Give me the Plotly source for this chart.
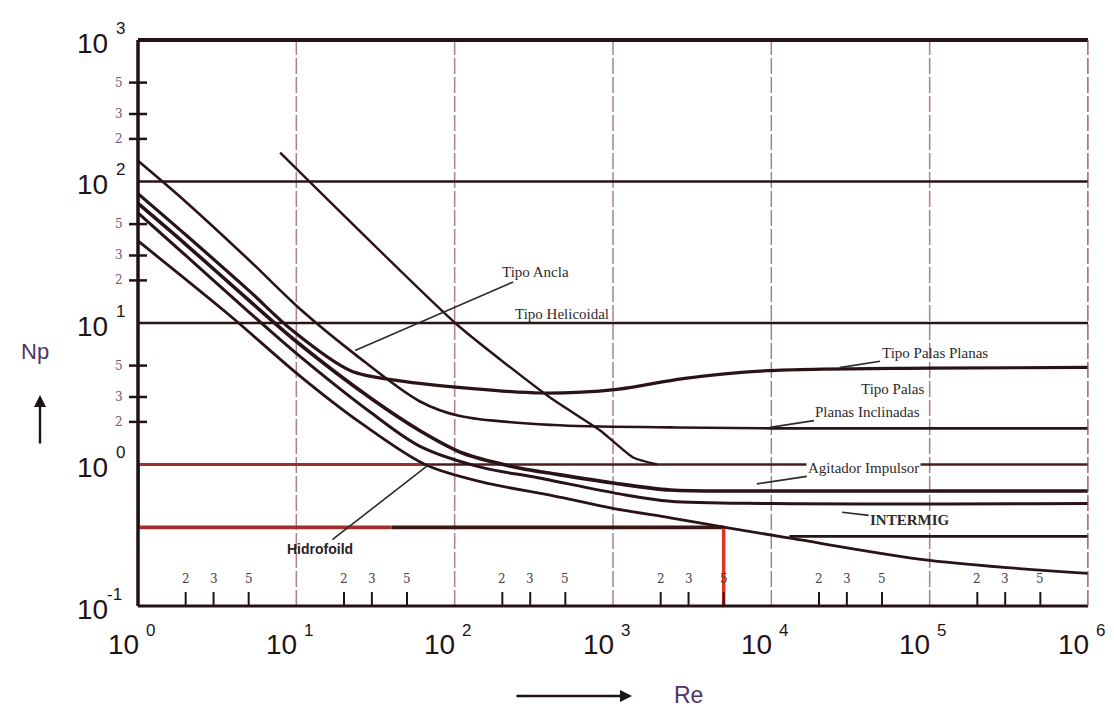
import math
import plotly.graph_objects as go

# ---------------- data ----------------
re_ancla = [1, 2, 5, 10.6, 23.5, 60, 108, 420, 2300, 1e4, 1e6]
np_ancla = [140, 72, 28, 12.5, 6.0, 2.8, 2.2, 1.9, 1.83, 1.8, 1.8]

re_helic = [7.9, 105, 400, 830, 1340, 1900]
np_helic = [160, 9.6, 2.97, 1.74, 1.12, 1.0]

re_palas = [1, 2, 5, 9.5, 22, 45, 125, 350, 1060, 2770, 9400, 1e5, 1e6]
np_palas = [82, 42, 17, 8.8, 4.6, 3.9, 3.45, 3.2, 3.4, 4.05, 4.6, 4.8, 4.85]

re_agit = [1, 2, 5, 10, 30, 60, 113, 260, 420, 1000, 2300, 1e4, 1e6]
np_agit = [70, 36, 14.5, 7.4, 2.9, 1.74, 1.2, 0.94, 0.86, 0.74, 0.66, 0.65, 0.65]

re_inter = [1, 2, 5, 10, 30, 60, 150, 330, 1100, 2300, 1e4, 1e6]
np_inter = [60, 30, 12, 6.1, 2.3, 1.35, 0.95, 0.81, 0.62, 0.55, 0.53, 0.53]

re_hidro = [1, 3.8, 10.6, 25, 65, 150, 420, 1000, 2300, 5100, 13500, 1e5, 1e6]
np_hidro = [38, 11.3, 4.2, 2.0, 1.0, 0.75, 0.6, 0.49, 0.42, 0.36, 0.30, 0.21, 0.17]

re_branch = [1.3e4, 1e5, 1e6]
np_branch = [0.31, 0.31, 0.31]

re_mark = 5000
np_mark = 0.36

decades_x = [0, 1, 2, 3, 4, 5, 6]
decades_y = [-1, 0, 1, 2, 3]
minor_mult = [2, 3, 5]

curve_labels = ["Tipo Ancla", "Tipo Helicoidal", "Tipo Palas Planas", "Tipo Palas",
                "Planas Inclinadas", "Agitador Impulsor", "INTERMIG", "Hidrofoild"]

# ---------------- figure ----------------
OFF = 8                      # default page margin of the html body
W, H = 1114 - 2 * OFF, 718 - 2 * OFF
L, T = 138 - OFF, 40 - OFF   # plot area in page pixels: x 138..1088, y 40..606
R = W - (1088 - OFF)
B = H - (606 - OFF)
PW = W - L - R
PH = H - T - B

DARK = "#2a1316"
GRIDV = "rgba(150,95,110,0.8)"
PURPLE = "#4d3468"


def px(page_x):
    return (page_x - OFF - L) / PW


def py(page_y):
    return (H - B - (page_y - OFF)) / PH


fig = go.Figure()


def add_line(x, y, color=DARK, width=2.5, dash=None, shape="linear", smoothing=0.9):
    line = dict(color=color, width=width, dash=dash, shape=shape)
    if shape == "spline":
        line["smoothing"] = smoothing
    fig.add_trace(go.Scatter(x=x, y=y, mode="lines", hoverinfo="skip",
                             line=line, showlegend=False))


# vertical grid lines (decades)
for k in decades_x[1:]:
    add_line([10 ** k, 10 ** k], [0.1, 1000], color=GRIDV, width=1.5, dash="16px,3px")

# horizontal grid lines
add_line([1, 1e6], [100, 100], width=2.6)
add_line([1, 1e6], [10, 10], width=2.6)
add_line([1, 70], [1, 1], color="#a0302c", width=2.8)
add_line([70, 1e6], [1, 1], color="#4a1c20", width=2.6)

# marker rectangle (Hidrofoil at Re = 5000)
add_line([1, 1], [np_mark, 1], color="#a0302c", width=3.5)
add_line([1, 40], [np_mark, np_mark], color="#a0302c", width=3.8)
add_line([40, re_mark], [np_mark, np_mark], color="#3c1518", width=3.8)
add_line([re_mark, re_mark], [0.1, np_mark], color="#e8321e", width=3.5)

# curves
add_line(re_helic, np_helic, width=2.4, shape="spline", smoothing=0.5)
add_line(re_ancla, np_ancla, width=2.6, shape="spline")
add_line(re_palas, np_palas, width=3.2, shape="spline")
add_line(re_agit, np_agit, width=3.6, shape="spline")
add_line(re_inter, np_inter, width=3.0, shape="spline")
add_line(re_hidro, np_hidro, width=2.8, shape="spline")
add_line(re_branch, np_branch, width=2.8)

# borders (paper coords)
shapes = [
    dict(type="line", xref="paper", yref="paper", x0=0, x1=1, y0=1, y1=1,
         line=dict(color="#221214", width=4)),
    dict(type="line", xref="paper", yref="paper", x0=0, x1=0, y0=0, y1=1,
         line=dict(color="#221214", width=3.5)),
    dict(type="line", xref="paper", yref="paper", x0=0, x1=1, y0=0, y1=0,
         line=dict(color="#221214", width=2.8)),
    dict(type="line", xref="paper", yref="paper", x0=1, x1=1, y0=0, y1=1,
         line=dict(color=GRIDV, width=1.5, dash="16px,3px")),
]

annotations = []


def ann(**kw):
    kw.setdefault("xanchor", "center")
    kw.setdefault("yanchor", "middle")
    kw.setdefault("showarrow", False)
    annotations.append(kw)


# y minor ticks and labels
for k in [0, 1, 2]:
    for m in minor_mult:
        yp = (math.log10(m) + k + 1) / 4.0
        shapes.append(dict(type="line", xref="paper", yref="paper",
                           x0=-9 / PW, x1=9 / PW, y0=yp, y1=yp,
                           line=dict(color="#221214", width=2.5)))
        ann(xref="paper", yref="paper", x=0, y=yp, xshift=-19, text=str(m),
            font=dict(family="DejaVu Serif", size=12, color="#6e5870"))

# x minor ticks and labels
for k in range(6):
    for m in minor_mult:
        xp = (math.log10(m) + k) / 6.0
        shapes.append(dict(type="line", xref="paper", yref="paper",
                           x0=xp, x1=xp, y0=0, y1=14 / PH,
                           line=dict(color="#221214", width=2)))
        ann(xref="paper", yref="paper", x=xp, y=0, yshift=27, text=str(m),
            font=dict(family="DejaVu Serif", size=12, color="#4a3a44"))

# major tick labels
TF = "Liberation Sans"
for k in decades_x:
    ann(xref="x", yref="paper", x=k, y=0, xshift=-15, yshift=-38, text="10",
        font=dict(family=TF, size=28, color="#1e1416"))
    ann(xref="x", yref="paper", x=k, y=0, xshift=12, yshift=-24, text=str(k),
        font=dict(family=TF, size=17, color="#1e1416"))
for k in decades_y:
    ann(xref="paper", yref="y", x=0, y=k, xshift=-46, yshift=-3, text="10",
        font=dict(family=TF, size=28, color="#1e1416"))
    ann(xref="paper", yref="y", x=0, y=k, xshift=-18 if k >= 0 else -24,
        yshift=12, text=str(k), font=dict(family=TF, size=17, color="#1e1416"))

# curve labels
SF = "Liberation Serif"
lab_font = dict(family=SF, size=15, color="#2e2a2c")


def lab(text, re, npv, ax=None, ay=None, font=lab_font, xanchor="center", bg=None):
    d = dict(xref="x", yref="y", x=math.log10(re), y=math.log10(npv), text=text,
             font=font, xanchor=xanchor, yanchor="middle")
    if ax is None:
        d["showarrow"] = False
    else:
        d.update(showarrow=True, ax=ax, ay=ay, arrowhead=0, arrowwidth=1.6,
                 arrowcolor="#2e2a2c", standoff=0)
    if bg:
        d["bgcolor"] = bg
    annotations.append(d)


lab(curve_labels[0], 23.5, 6.4, ax=180, ay=-78)
lab(curve_labels[1], 477, 11.5)
lab(curve_labels[2], 27000, 4.84, ax=95, ay=-15)
lab(curve_labels[3], 36000, 3.4, xanchor="left")
lab(curve_labels[4], 9800, 1.83, ax=98, ay=-15)
lab(curve_labels[5], 8100, 0.73, ax=107, ay=-16, bg="white")
lab(curve_labels[6], 28000, 0.46, ax=68, ay=8,
    font=dict(family=SF, size=15, color="#2e2a2c", weight="bold"))
lab(curve_labels[7], 68, 0.99, ax=-108, ay=84,
    font=dict(family="Liberation Sans", size=14, color="#2a2224", weight="bold"))

# axis titles with arrows (positions in page pixels)
ann(xref="paper", yref="paper", x=px(35), y=py(352), text="Np",
    font=dict(family="Liberation Sans", size=22, color=PURPLE))
annotations.append(dict(xref="paper", yref="paper", x=px(40), y=py(395),
                        text="", showarrow=True, ax=0, ay=50, arrowhead=2, arrowsize=1,
                        arrowwidth=2.4, arrowcolor="#1a1214"))
ann(xref="paper", yref="paper", x=px(688), y=py(695), text="Re",
    font=dict(family="Liberation Sans", size=23, color=PURPLE))
annotations.append(dict(xref="paper", yref="paper", x=px(632), y=py(696),
                        text="", showarrow=True, ax=-117, ay=0, arrowhead=2, arrowsize=1,
                        arrowwidth=2.4, arrowcolor="#1a1214"))

fig.update_layout(
    width=W, height=H,
    margin=dict(l=L, r=R, t=T, b=B),
    paper_bgcolor="white", plot_bgcolor="white",
    xaxis=dict(type="log", range=[0, 6], showgrid=False, zeroline=False,
               showticklabels=False, ticks="", showline=False),
    yaxis=dict(type="log", range=[-1, 3], showgrid=False, zeroline=False,
               showticklabels=False, ticks="", showline=False),
    shapes=shapes, annotations=annotations,
    showlegend=False,
)

fig.write_html("out.html")
